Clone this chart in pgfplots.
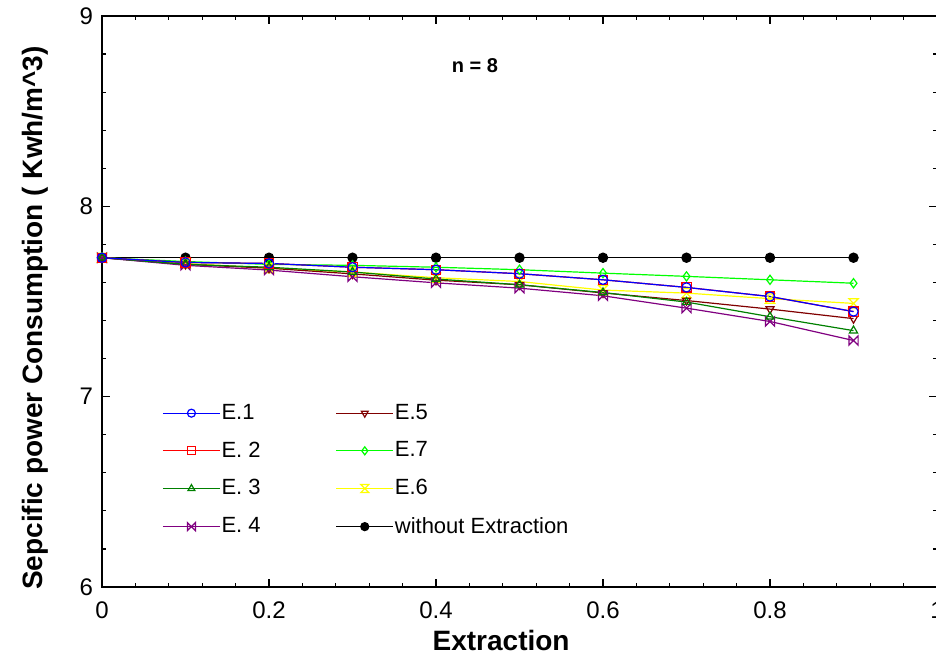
\documentclass[border=0pt]{standalone}
\usepackage{fontspec}
\setmainfont{Liberation Sans}
\usepackage{pgfplots}
\pgfplotsset{compat=1.18}
\usepackage{pgfplotstable}

\definecolor{cE1}{RGB}{0,0,255}
\definecolor{cE2}{RGB}{255,0,0}
\definecolor{cE3}{RGB}{0,128,0}
\definecolor{cE4}{RGB}{128,0,128}
\definecolor{cE5}{RGB}{128,0,0}
\definecolor{cE6}{RGB}{255,255,0}
\definecolor{cE7}{RGB}{0,255,0}

\pgfdeclareplotmark{bowtie}{%
  \pgfpathmoveto{\pgfqpoint{-\pgfplotmarksize}{\pgfplotmarksize}}%
  \pgfpathlineto{\pgfqpoint{\pgfplotmarksize}{-\pgfplotmarksize}}%
  \pgfpathlineto{\pgfqpoint{\pgfplotmarksize}{\pgfplotmarksize}}%
  \pgfpathlineto{\pgfqpoint{-\pgfplotmarksize}{-\pgfplotmarksize}}%
  \pgfpathclose
  \pgfusepathqstroke}
\pgfdeclareplotmark{hourglass}{%
  \pgfpathmoveto{\pgfqpoint{-\pgfplotmarksize}{\pgfplotmarksize}}%
  \pgfpathlineto{\pgfqpoint{\pgfplotmarksize}{\pgfplotmarksize}}%
  \pgfpathlineto{\pgfqpoint{-\pgfplotmarksize}{-\pgfplotmarksize}}%
  \pgfpathlineto{\pgfqpoint{\pgfplotmarksize}{-\pgfplotmarksize}}%
  \pgfpathclose
  \pgfusepathqstroke}

\pgfplotstableread{
x    E1     E2     E3     E4     E5     E6     E7     W
0.0  7.730  7.730  7.730  7.730  7.730  7.730  7.730  7.730
0.1  7.705  7.705  7.695  7.690  7.695  7.700  7.710  7.730
0.2  7.700  7.700  7.680  7.665  7.675  7.675  7.695  7.730
0.3  7.680  7.680  7.655  7.630  7.645  7.655  7.690  7.730
0.4  7.667  7.667  7.618  7.598  7.612  7.625  7.680  7.730
0.5  7.646  7.646  7.588  7.570  7.588  7.605  7.667  7.730
0.6  7.614  7.614  7.547  7.530  7.545  7.560  7.649  7.730
0.7  7.574  7.574  7.497  7.465  7.505  7.544  7.632  7.730
0.8  7.526  7.526  7.420  7.395  7.460  7.515  7.614  7.730
0.9  7.447  7.447  7.347  7.295  7.410  7.490  7.596  7.730
}\datatable

\begin{document}
\begin{tikzpicture}
\begin{axis}[
  at={(0,0)}, anchor=south west,
  scale only axis, width=417.5pt, height=285.5pt,
  xmin=0, xmax=1, ymin=6, ymax=9,
  xtick={0,0.2,0.4,0.6,0.8,1}, xticklabels={0,0.2,0.4,0.6,0.8,1},
  ytick={6,7,8,9},
  minor x tick num=4, minor y tick num=4,
  tick pos=both, tick align=inside,
  major tick length=4pt, minor tick length=2pt,
  axis line style={line width=1.3pt},
  every tick/.style={black, line width=0.6pt},
  /pgf/number format/assume math mode=true,
  tick label style={font=\fontsize{12}{14}\selectfont},
  xticklabel style={yshift=-4pt},
  yticklabel style={xshift=-1pt},
  xlabel={\bfseries Extraction},
  ylabel={\bfseries Sepcific power Consumption ( Kwh/m\textasciicircum3)},
  label style={font=\fontsize{14}{16}\selectfont},
  xlabel style={at={(axis description cs:0.478,-0.093)}, anchor=center},
  ylabel style={at={(axis description cs:-0.0802,0.471)}, anchor=center},
  every axis plot/.append style={line width=0.6pt, mark size=2.3pt},
  legend image code/.code={%
    \draw[mark repeat=2, mark phase=2, mark size=2pt] plot coordinates {(0pt,0pt) (14.25pt,0pt) (28.5pt,0pt)};},
  legend columns=2,
  legend cell align=left,
  legend style={draw=none, fill=none, at={(axis cs:0.0646,7.005)}, anchor=north west,
    font=\fontsize{11}{13}\selectfont,
    nodes={inner xsep=0.5pt, inner ysep=2pt},
    row sep=5.7pt,
    /tikz/column 2/.style={column sep=37pt}},
]
\addplot[black, mark=*, mark options={fill=black}, forget plot] table[x=x,y=W] {\datatable};
\addplot[cE7, mark=diamond, mark options={fill=white}, forget plot] table[x=x,y=E7] {\datatable};
\addplot[cE6, mark=hourglass, forget plot] table[x=x,y=E6] {\datatable};
\addplot[cE5, mark=triangle, mark options={rotate=180, fill=white}, forget plot] table[x=x,y=E5] {\datatable};
\addplot[cE4, mark=bowtie, forget plot] table[x=x,y=E4] {\datatable};
\addplot[cE3, mark=triangle, mark options={fill=white}, forget plot] table[x=x,y=E3] {\datatable};
\addplot[cE2, mark=square, mark options={fill=white}, forget plot] table[x=x,y=E2] {\datatable};
\addplot[cE1, mark=o, mark options={fill=white}, forget plot] table[x=x,y=E1] {\datatable};

\addlegendimage{cE1, mark=o, mark options={fill=white}}
\addlegendentry{E.1}
\addlegendimage{cE5, mark=triangle, mark options={rotate=180, fill=white}}
\addlegendentry{E.5}
\addlegendimage{cE2, mark=square, mark options={fill=white}}
\addlegendentry{E. 2}
\addlegendimage{cE7, mark=diamond, mark options={fill=white}}
\addlegendentry{E.7}
\addlegendimage{cE3, mark=triangle, mark options={fill=white}}
\addlegendentry{E. 3}
\addlegendimage{cE6, mark=hourglass}
\addlegendentry{E.6}
\addlegendimage{cE4, mark=bowtie}
\addlegendentry{E. 4}
\addlegendimage{black, mark=*, mark options={fill=black}}
\addlegendentry{without Extraction}

\node[font=\fontsize{10}{12}\selectfont\bfseries] at (axis cs:0.4467,8.737) {n = 8};
\end{axis}
\pgfresetboundingbox
\useasboundingbox (-51pt,-35pt) rectangle (417pt,293.5pt);
\end{tikzpicture}
\end{document}
